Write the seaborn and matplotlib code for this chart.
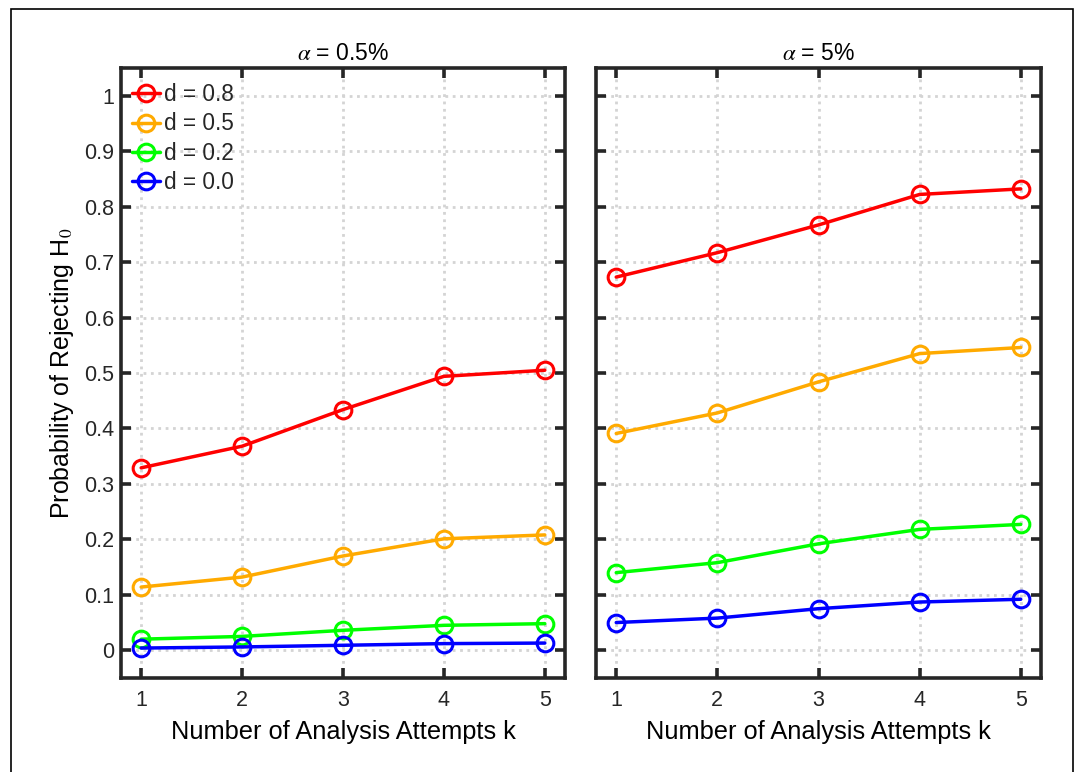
import matplotlib
matplotlib.use("Agg")
import matplotlib.pyplot as plt
import seaborn as sns
import pandas as pd
from matplotlib.patches import Rectangle

# ---- data ----
k_values = [1, 2, 3, 4, 5]
d_labels = ["d = 0.8", "d = 0.5", "d = 0.2", "d = 0.0"]
alpha_titles = [r"$\alpha$ = 0.5%", r"$\alpha$ = 5%"]

p_alpha05_d08 = [0.329, 0.368, 0.434, 0.494, 0.505]
p_alpha05_d05 = [0.114, 0.132, 0.170, 0.201, 0.208]
p_alpha05_d02 = [0.020, 0.025, 0.036, 0.045, 0.048]
p_alpha05_d00 = [0.004, 0.006, 0.009, 0.012, 0.013]

p_alpha5_d08 = [0.673, 0.717, 0.767, 0.822, 0.832]
p_alpha5_d05 = [0.391, 0.428, 0.484, 0.535, 0.546]
p_alpha5_d02 = [0.140, 0.158, 0.192, 0.218, 0.227]
p_alpha5_d00 = [0.050, 0.058, 0.075, 0.087, 0.092]

colors = ["#FF0000", "#FFAA00", "#00FF00", "#0000FF"]
yticks = [0, 0.1, 0.2, 0.3, 0.4, 0.5, 0.6, 0.7, 0.8, 0.9, 1.0]
yticklabels = ["0", "0.1", "0.2", "0.3", "0.4", "0.5", "0.6", "0.7", "0.8", "0.9", "1"]

panels = [
    [p_alpha05_d08, p_alpha05_d05, p_alpha05_d02, p_alpha05_d00],
    [p_alpha5_d08, p_alpha5_d05, p_alpha5_d02, p_alpha5_d00],
]

rows = []
for pi, series in enumerate(panels):
    for lab, vals in zip(d_labels, series):
        for k, v in zip(k_values, vals):
            rows.append({"panel": pi, "k": k, "p": v, "d": lab})
df = pd.DataFrame(rows)

sns.set_theme(style="white")
plt.rcParams["font.family"] = ["Liberation Sans", "DejaVu Sans"]
plt.rcParams["mathtext.fontset"] = "stix"

fig = plt.figure(figsize=(10.78, 7.72), dpi=100)
fig.patch.set_facecolor("white")
fig.patches.append(Rectangle((11 / 1078, -0.05), (1073 - 11) / 1078, 1.05 - 9 / 772,
                             transform=fig.transFigure, fill=False,
                             edgecolor="black", linewidth=1.2, zorder=0))

ax_pos = [[121 / 1078, 1 - 678 / 772, 444 / 1078, 610 / 772],
          [596 / 1078, 1 - 678 / 772, 445 / 1078, 610 / 772]]

dark = "#262626"
for pi in range(2):
    ax = fig.add_axes(ax_pos[pi])
    sub = df[df["panel"] == pi]
    sns.lineplot(data=sub, x="k", y="p", hue="d", hue_order=d_labels,
                 palette=colors, marker="o", markersize=12,
                 markerfacecolor="none", markeredgewidth=2.2,
                 linewidth=2.5, ax=ax, legend=(pi == 0), zorder=3)
    for line in ax.lines:
        line.set_markeredgecolor(line.get_color())
    ax.set_xlim(0.8, 5.2)
    ax.set_ylim(-0.05, 1.05)
    ax.set_xticks(k_values)
    ax.set_xticklabels([str(k) for k in k_values])
    ax.set_yticks(yticks)
    if pi == 0:
        ax.set_yticklabels(yticklabels)
        ax.set_ylabel(r"Probability of Rejecting H$_0$", fontsize=18, color="black", labelpad=6)
    else:
        ax.set_yticklabels([])
        ax.set_ylabel("")
    ax.set_xlabel("Number of Analysis Attempts k", fontsize=18.3, color="black", labelpad=6)
    ax.set_title(alpha_titles[pi], fontsize=16.5, color="black", pad=6)
    ax.grid(True, linestyle=":", color="#d4d4d4", linewidth=2.0)
    ax.set_axisbelow(True)
    ax.tick_params(axis="both", which="major", direction="in", length=7, width=2.6,
                   color=dark, labelcolor=dark, labelsize=15.5,
                   top=True, right=True, left=True, bottom=True)
    ax.tick_params(axis="x", pad=9)
    ax.tick_params(axis="y", pad=5)
    for s in ax.spines.values():
        s.set_visible(True)
        s.set_color(dark)
        s.set_linewidth(2.6)
    if pi == 0:
        leg = ax.legend(loc="upper left", frameon=False, fontsize=16.3,
                        handlelength=1.25, handletextpad=0.15, labelspacing=0.28,
                        borderaxespad=0.0, borderpad=0.3,
                        bbox_to_anchor=(0.0097, 0.9864))
        for h in leg.legend_handles:
            h.set_markerfacecolor("none")
            h.set_markeredgewidth(2.2)
            h.set_linewidth(2.5)

fig.savefig("out.png", dpi=100, facecolor="white")
